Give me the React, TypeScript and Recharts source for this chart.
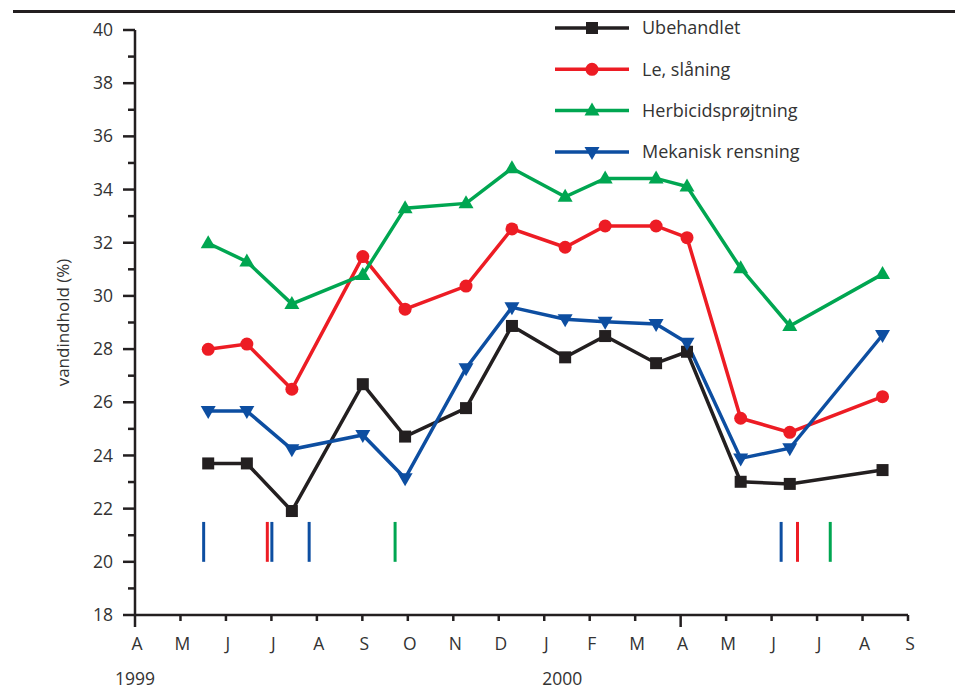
import React from 'react';
import { LineChart, Line, XAxis, YAxis, ReferenceLine } from 'recharts';

// month index 0 = April 1999 ... 17 = September 2000
const monthLetters = ['A', 'M', 'J', 'J', 'A', 'S', 'O', 'N', 'D', 'J', 'F', 'M', 'A', 'M', 'J', 'J', 'A', 'S'];
const sampleMonths = [1.61, 2.46, 3.45, 5.01, 5.94, 7.28, 8.29, 9.46, 10.34, 11.46, 12.14, 13.32, 14.4, 16.44];

const ubehandlet = [23.7, 23.7, 21.91, 26.68, 24.71, 25.78, 28.87, 27.69, 28.49, 27.47, 27.9, 23.01, 22.93, 23.45];
const leSlaaning = [27.99, 28.19, 26.49, 31.48, 29.5, 30.37, 32.52, 31.83, 32.63, 32.63, 32.19, 25.4, 24.87, 26.21];
const herbicid = [31.98, 31.29, 29.7, 30.79, 33.3, 33.48, 34.8, 33.73, 34.42, 34.42, 34.11, 31.04, 28.87, 30.82];
const mekanisk = [25.67, 25.67, 24.23, 24.77, 23.14, 27.28, 29.57, 29.12, 29.03, 28.94, 28.24, 23.89, 24.27, 28.53];

// treatment dates, drawn as short vertical strokes near the bottom
const eventMonths = [1.51, 2.91, 3.01, 3.83, 5.72, 14.21, 14.57, 15.29];
const eventSeries = ['mek', 'le', 'mek', 'mek', 'herb', 'mek', 'le', 'herb'];

const INK = '#231f20';
const TEXT = '#333333';
const FONT = '"Open Sans", "Noto Sans", sans-serif';

const colors: Record<string, string> = {
  ub: INK,
  le: '#ed1c24',
  herb: '#00a651',
  mek: '#0d4ea1',
};

const data = sampleMonths.map((m, i) => ({
  m,
  ub: ubehandlet[i],
  le: leSlaaning[i],
  herb: herbicid[i],
  mek: mekanisk[i],
}));

type Shape = 'square' | 'circle' | 'up' | 'down';

const Marker = ({ cx, cy, shape, color }: { cx: number; cy: number; shape: Shape; color: string }) => {
  if (shape === 'square') return <rect x={cx - 6} y={cy - 6} width={12} height={12} fill={color} />;
  if (shape === 'circle') return <circle cx={cx} cy={cy} r={6.5} fill={color} />;
  if (shape === 'up')
    return <polygon points={`${cx},${cy - 8} ${cx - 7.5},${cy + 5} ${cx + 7.5},${cy + 5}`} fill={color} />;
  return <polygon points={`${cx},${cy + 8} ${cx - 7.5},${cy - 5} ${cx + 7.5},${cy - 5}`} fill={color} />;
};

const series: { key: string; name: string; shape: Shape }[] = [
  { key: 'ub', name: 'Ubehandlet', shape: 'square' },
  { key: 'le', name: 'Le, slåning', shape: 'circle' },
  { key: 'herb', name: 'Herbicidsprøjtning', shape: 'up' },
  { key: 'mek', name: 'Mekanisk rensning', shape: 'down' },
];

const YTick = (props: any) => {
  const { x, y, payload } = props;
  const major = payload.value % 2 === 0;
  return (
    <g>
      <line x1={x - (major ? 12 : 7)} x2={x} y1={y} y2={y} stroke={INK} strokeWidth={2.5} />
      {major && (
        <text x={x - 22} y={y} dy="0.35em" textAnchor="end" fontSize={17.5} fill={TEXT} fontFamily={FONT}>
          {payload.value}
        </text>
      )}
    </g>
  );
};

const XTick = (props: any) => {
  const { x, y, payload } = props;
  const v = payload.value;
  const long = v === 0 || v === 12;
  return (
    <g>
      <line x1={x} x2={x} y1={y} y2={y + (long ? 12 : 6)} stroke={INK} strokeWidth={2.5} />
      <text x={x + 2} y={y + 29} dy="0.35em" textAnchor="middle" fontSize={17.5} fill={TEXT} fontFamily={FONT}>
        {monthLetters[v]}
      </text>
      {v === 0 && (
        <text x={x} y={y + 64} dy="0.35em" textAnchor="middle" fontSize={17.5} fill={TEXT} fontFamily={FONT}>
          1999
        </text>
      )}
      {v === 9 && (
        <text x={x + 18} y={y + 64} dy="0.35em" textAnchor="middle" fontSize={17.5} fill={TEXT} fontFamily={FONT}>
          2000
        </text>
      )}
    </g>
  );
};

const LegendBox = () => (
  <svg width={320} height={170} style={{ position: 'absolute', left: 545, top: 0 }}>
    {series.map((s, i) => {
      const y = 28 + i * 41.3;
      return (
        <g key={s.key}>
          <line x1={10} x2={84} y1={y} y2={y} stroke={colors[s.key]} strokeWidth={3.5} />
          <Marker cx={47} cy={y} shape={s.shape} color={colors[s.key]} />
          <text x={97} y={y} dy="0.35em" fontSize={18} fill={TEXT} fontFamily={FONT}>
            {s.name}
          </text>
        </g>
      );
    })}
  </svg>
);

const monthTicks = monthLetters.map((_, i) => i);
const valueTicks = Array.from({ length: 23 }, (_, i) => 18 + i);

export default function App() {
  return (
    <div style={{ position: 'absolute', left: 0, top: 0, width: 955, height: 691, background: '#fff' }}>
      <div style={{ position: 'absolute', left: 13, top: 10, width: 942, height: 2.5, background: INK }} />
      <LineChart width={955} height={691} data={data} margin={{ top: 30, right: 47, bottom: 0, left: 0 }}>
        <XAxis
          type="number"
          dataKey="m"
          domain={[0, 17]}
          ticks={monthTicks}
          interval={0}
          height={76}
          tickSize={0}
          tickMargin={0}
          tickLine={false}
          axisLine={{ stroke: INK, strokeWidth: 2.5 }}
          tick={<XTick />}
        />
        <YAxis
          type="number"
          domain={[18, 40]}
          ticks={valueTicks}
          interval={0}
          width={135}
          tickSize={0}
          tickMargin={0}
          tickLine={false}
          axisLine={{ stroke: INK, strokeWidth: 2.5 }}
          tick={<YTick />}
          label={{
            value: 'vandindhold (%)',
            angle: -90,
            position: 'center',
            dx: -5,
            style: { fontSize: 17, fill: TEXT, fontFamily: FONT },
          }}
        />
        {eventMonths.map((m, i) => (
          <ReferenceLine
            key={i}
            segment={[
              { x: m, y: 20 },
              { x: m, y: 21.5 },
            ]}
            stroke={colors[eventSeries[i]]}
            strokeWidth={3}
          />
        ))}
        {series.map((s) => (
          <Line
            key={s.key}
            dataKey={s.key}
            name={s.name}
            stroke={colors[s.key]}
            strokeWidth={3.5}
            isAnimationActive={false}
            dot={(p: any) => <Marker key={p.index} cx={p.cx} cy={p.cy} shape={s.shape} color={colors[s.key]} />}
            activeDot={false}
          />
        ))}
      </LineChart>
      <LegendBox />
    </div>
  );
}
